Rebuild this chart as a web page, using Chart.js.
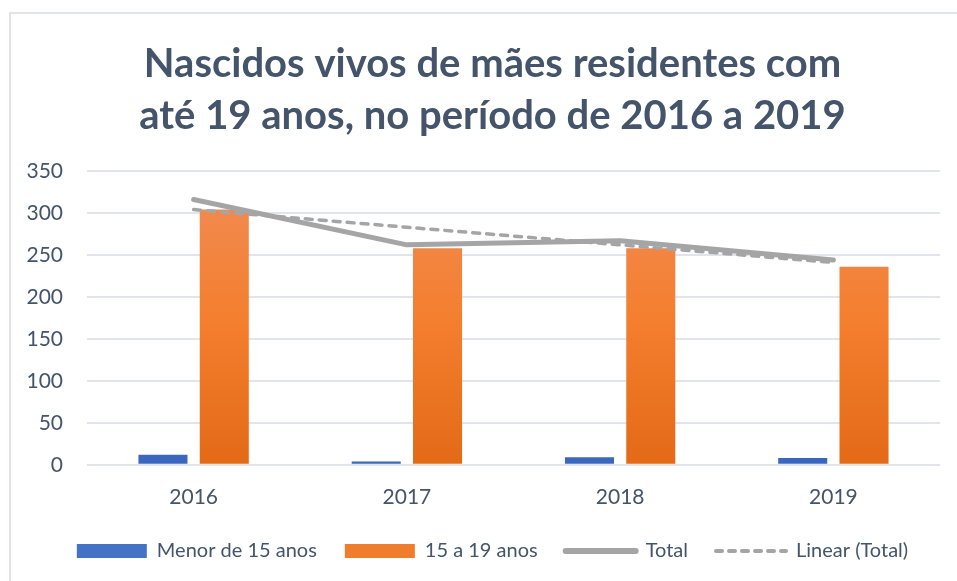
<!DOCTYPE html>
<html>
<head>
<meta charset="utf-8">
<script src="https://cdn.jsdelivr.net/npm/chart.js@4"></script>
<style>
  body { margin: 0; background: #fff; }
  #wrap { position: relative; width: 957px; height: 581px; overflow: hidden; }
  #frame { position: absolute; left: 9px; top: 12px; width: 1000px; height: 1000px;
           border-left: 2px solid #E1E5EB; border-top: 2px solid #E1E5EB; }
  #chart { position: absolute; left: 0; top: 0; }
</style>
</head>
<body>
<div id="wrap">
  <div id="frame"></div>
  <canvas id="chart" width="957" height="581"></canvas>
</div>
<script>
const years = ["2016", "2017", "2018", "2019"];
const menor15 = [12, 4, 9, 8];
const de15a19 = [304, 258, 258, 236];
const total = [316, 262, 267, 244];
const linearTotal = [304, 283, 262, 241];
const yTicks = [0, 50, 100, 150, 200, 250, 300, 350];

const textColor = "#44546A";
const font = "Lato, 'Open Sans', sans-serif";

const gradient = (top, mid, bottom) => (context) => {
  const { ctx, chartArea } = context.chart;
  if (!chartArea) return mid;
  const g = ctx.createLinearGradient(0, chartArea.top, 0, chartArea.bottom);
  g.addColorStop(0, top);
  g.addColorStop(0.5, mid);
  g.addColorStop(1, bottom);
  return g;
};

const ctx = document.getElementById("chart");

new Chart(ctx, {
  data: {
    labels: years,
    datasets: [
      {
        type: "line",
        label: "Total",
        data: total,
        borderColor: "#A5A5A5",
        borderWidth: 5,
        borderCapStyle: "round",
        borderJoinStyle: "round",
        pointRadius: 0,
        order: 1,
      },
      {
        type: "line",
        label: "Linear (Total)",
        data: linearTotal,
        borderColor: "#A5A5A5",
        borderWidth: 3.5,
        borderDash: [7, 7],
        borderCapStyle: "round",
        pointRadius: 0,
        order: 2,
      },
      {
        type: "bar",
        label: "Menor de 15 anos",
        data: menor15,
        backgroundColor: gradient("#5A85D2", "#4472C4", "#3A66BE"),
        categoryPercentage: 0.575,
        barPercentage: 0.8,
        order: 3,
      },
      {
        type: "bar",
        label: "15 a 19 anos",
        data: de15a19,
        backgroundColor: gradient("#F08C57", "#F47F2F", "#E36A17"),
        categoryPercentage: 0.575,
        barPercentage: 0.8,
        order: 3,
      },
    ],
  },
  options: {
    responsive: false,
    animation: false,
    layout: { padding: { left: 45, right: 17, top: 0, bottom: 10 } },
    scales: {
      x: {
        grid: { display: false },
        border: { display: false },
        ticks: { color: textColor, font: { family: font, size: 21 }, padding: 12 },
        afterFit: (axis) => {
          axis.height -= 9;
        },
      },
      y: {
        min: 0,
        max: 350,
        afterBuildTicks: (axis) => {
          axis.ticks = yTicks.map((v) => ({ value: v }));
        },
        afterFit: (axis) => {
          // narrow axis so title/legend centre like the original; let labels draw past it
          axis.width = 42;
          axis._computeLabelArea = () => undefined;
        },
        grid: { color: "#E1E5EB", lineWidth: 2, drawTicks: false },
        border: { display: false },
        ticks: { color: textColor, font: { family: font, size: 21 }, padding: 24 },
      },
    },
    plugins: {
      title: {
        display: true,
        text: ["Nascidos vivos de mães residentes com", "até 19 anos, no período de 2016 a 2019"],
        color: textColor,
        font: { family: font, size: 40, weight: "bold", lineHeight: 1.3 },
        padding: { top: 38, bottom: 29 },
      },
      legend: {
        position: "bottom",
        labels: {
          usePointStyle: true,
          pointStyleWidth: 70,
          boxHeight: 14,
          padding: 28,
          color: textColor,
          font: { family: font, size: 20 },
          generateLabels: () => [
            { text: "Menor de 15 anos", fillStyle: "#4472C4", strokeStyle: "#4472C4", lineWidth: 0, pointStyle: "rect", fontColor: textColor },
            { text: "15 a 19 anos", fillStyle: "#F07D2E", strokeStyle: "#F07D2E", lineWidth: 0, pointStyle: "rect", fontColor: textColor },
            { text: "Total", fillStyle: "#A5A5A5", strokeStyle: "#A5A5A5", lineWidth: 6, lineCap: "round", pointStyle: "line", fontColor: textColor },
            { text: "Linear (Total)", fillStyle: "#A5A5A5", strokeStyle: "#A5A5A5", lineWidth: 4, lineCap: "round", lineDash: [6, 7], pointStyle: "line", fontColor: textColor },
          ],
        },
      },
      tooltip: { enabled: false },
    },
  },
});
</script>
</body>
</html>
